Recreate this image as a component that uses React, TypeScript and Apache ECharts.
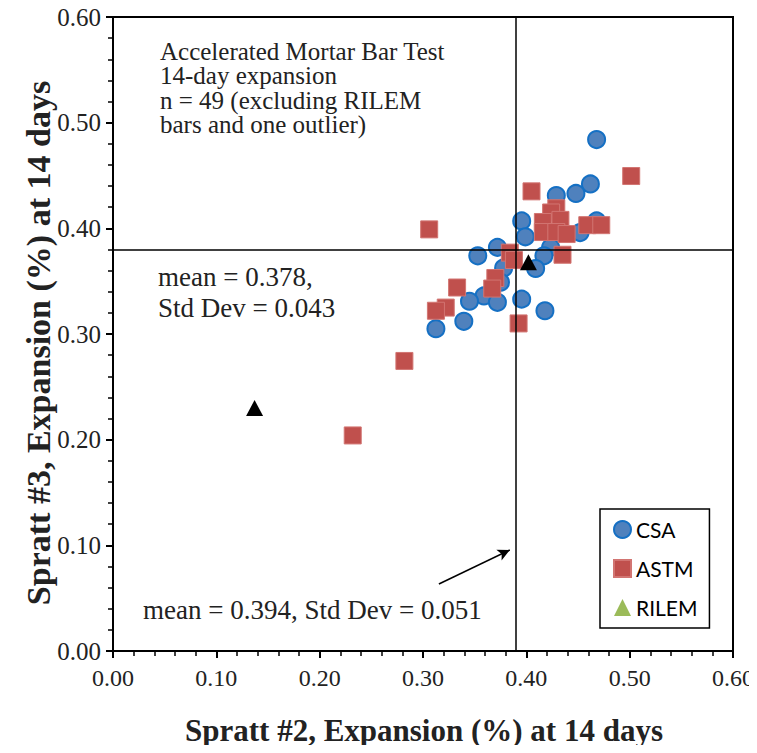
import React, { useEffect, useRef } from "react";
import * as echarts from "echarts";

const xTicks = [0, 0.1, 0.2, 0.3, 0.4, 0.5, 0.6];

const csaX = [0.468, 0.462, 0.448, 0.429, 0.468, 0.3955, 0.399, 0.452, 0.372, 0.353, 0.4235, 0.417, 0.378, 0.375, 0.359, 0.345, 0.372, 0.3955, 0.3395, 0.3125, 0.418, 0.409];
const csaY = [0.484, 0.442, 0.433, 0.431, 0.407, 0.407, 0.392, 0.396, 0.382, 0.374, 0.382, 0.374, 0.3625, 0.349, 0.336, 0.331, 0.330, 0.333, 0.312, 0.305, 0.322, 0.362];

const astmX = [0.5015, 0.405, 0.306, 0.429, 0.424, 0.433, 0.416, 0.416, 0.429, 0.439, 0.459, 0.4725, 0.435, 0.384, 0.388, 0.370, 0.367, 0.333, 0.322, 0.3125, 0.3925, 0.282, 0.232];
const astmY = [0.4495, 0.435, 0.399, 0.419, 0.415, 0.408, 0.406, 0.3965, 0.3965, 0.3946, 0.403, 0.403, 0.375, 0.377, 0.370, 0.353, 0.343, 0.344, 0.325, 0.322, 0.310, 0.2745, 0.204];

const rilemX = [0.402, 0.137];
const rilemY = [0.368, 0.23];

const meanX = 0.394;
const meanY = 0.378;
const arrowFrom = [0.3154, 0.0634];
const arrowTo = [0.384, 0.0956];

const noteLines = [
  "Accelerated Mortar Bar Test",
  "14-day expansion",
  "n = 49 (excluding RILEM",
  "bars and one outlier)",
];
const meanYLines = ["mean = 0.378,", "Std Dev = 0.043"];
const meanXText = "mean = 0.394, Std Dev = 0.051";
const xTitle = "Spratt #2, Expansion (%) at 14 days";
const yTitle = "Spratt #3, Expansion (%) at 14 days";

const zip = (a: number[], b: number[]) => a.map((v, i) => [v, b[i]]);

const SERIF = "'Liberation Serif', 'DejaVu Serif', serif";

export default function App() {
  const ref = useRef<HTMLDivElement>(null);
  useEffect(() => {
    if (!ref.current) return;
    const chart = echarts.init(ref.current, null, { renderer: "svg" });
    const axisCommon = {
      min: 0,
      max: 0.6,
      interval: 0.1,
      axisLine: { show: true, onZero: false, lineStyle: { color: "#000", width: 2 } },
      axisTick: { show: true, inside: false, length: 7, lineStyle: { color: "#000", width: 2 } },
      minorTick: { show: true, splitNumber: 5, length: 5, lineStyle: { color: "#000", width: 1.5 } },
      splitLine: { show: false },
    };
    const noteGraphics = noteLines.map((t, i) => ({
      type: "text",
      x: 160,
      y: 51 + i * 24.5,
      z: 10,
      style: { text: t, font: `25px ${SERIF}`, fill: "#222", align: "left", verticalAlign: "middle" },
    }));
    chart.setOption({
      animation: false,
      grid: { left: 113, right: 22, top: 17, bottom: 102, show: true, borderColor: "#000", borderWidth: 2, backgroundColor: "transparent" },
      xAxis: {
        type: "value",
        ...axisCommon,
        axisLabel: { margin: 15, fontFamily: SERIF, fontSize: 24, color: "#222", formatter: (v: number) => v.toFixed(2) },
      },
      yAxis: {
        type: "value",
        ...axisCommon,
        axisLabel: { margin: 12, fontFamily: SERIF, fontSize: 25, color: "#222", formatter: (v: number) => v.toFixed(2) },
      },
      legend: {
        data: ["CSA", "ASTM", { name: "RILEM", itemStyle: { color: "#9BBB59", borderWidth: 0 } }],
        orient: "vertical",
        left: 600,
        top: 509,
        padding: [10, 12, 10, 13],
        itemGap: 18,
        itemWidth: 17,
        itemHeight: 17,
        borderColor: "#000",
        borderWidth: 1.5,
        backgroundColor: "#fff",
        textStyle: { fontFamily: "Lato, 'Open Sans', sans-serif", fontSize: 21, color: "#000" },
      },
      series: [
        {
          name: "CSA",
          type: "scatter",
          symbol: "circle",
          symbolSize: 17,
          data: zip(csaX, csaY),
          itemStyle: { color: "#4F81BD", borderColor: "#1570C4", borderWidth: 2, opacity: 1 },
          z: 2,
        },
        {
          name: "ASTM",
          type: "scatter",
          symbol: "rect",
          symbolSize: 17,
          data: zip(astmX, astmY),
          itemStyle: { color: "#C0504D", borderColor: "#D27572", borderWidth: 1, opacity: 1 },
          z: 3,
        },
        {
          name: "guides",
          type: "scatter",
          data: [],
          z: 4,
          silent: true,
          markLine: {
            silent: true,
            symbol: "none",
            label: { show: false },
            lineStyle: { color: "#000", width: 1.5, type: "solid" },
            emphasis: { disabled: true },
            data: [
              { xAxis: meanX },
              { yAxis: meanY },
              [
                { coord: arrowFrom, symbol: "none" },
                { coord: arrowTo, symbol: "arrow", symbolSize: [9, 12] },
              ],
            ],
          },
        },
        {
          name: "RILEM",
          type: "scatter",
          symbol: "triangle",
          symbolSize: [17, 16],
          data: zip(rilemX, rilemY),
          itemStyle: { color: "#000", opacity: 1 },
          z: 5,
        },
      ],
      graphic: [
        ...noteGraphics,
        {
          type: "text",
          x: 158,
          y: 277,
          z: 10,
          style: { text: meanYLines[0], font: `27px ${SERIF}`, fill: "#222", align: "left", verticalAlign: "middle" },
        },
        {
          type: "text",
          x: 158,
          y: 308,
          z: 10,
          style: { text: meanYLines[1], font: `27px ${SERIF}`, fill: "#222", align: "left", verticalAlign: "middle" },
        },
        {
          type: "text",
          x: 143,
          y: 610,
          z: 10,
          style: { text: meanXText, font: `27px ${SERIF}`, fill: "#222", align: "left", verticalAlign: "middle" },
        },
        {
          type: "text",
          x: 424,
          y: 730,
          z: 10,
          style: { text: xTitle, font: `bold 31px ${SERIF}`, fill: "#222", align: "center", verticalAlign: "middle" },
        },
        {
          type: "text",
          x: 38,
          y: 343,
          rotation: Math.PI / 2,
          z: 10,
          style: { text: yTitle, font: `bold 34px ${SERIF}`, fill: "#222", align: "center", verticalAlign: "middle" },
        },
      ],
    });
    return () => chart.dispose();
  }, []);
  return <div ref={ref} style={{ width: 757, height: 753, margin: -8 }} />;
}
